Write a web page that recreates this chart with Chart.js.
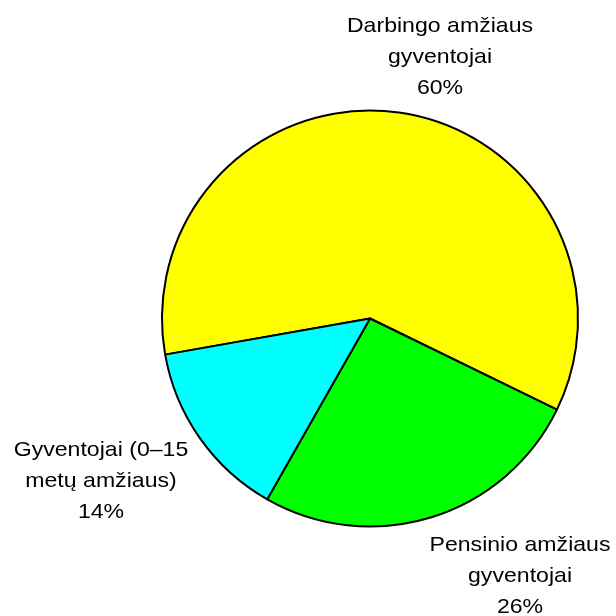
<!DOCTYPE html>
<html>
<head>
<meta charset="utf-8">
<script src="https://cdn.jsdelivr.net/npm/chart.js@4"></script>
<style>
  html, body { margin: 0; padding: 0; background: #fff; }
  #wrap { width: 616px; height: 616px; }
</style>
</head>
<body>
<div id="wrap"><canvas id="pieCanvas" width="616" height="616"></canvas></div>
<script>
// Data
const categories = [
    ['Darbingo amžiaus', 'gyventojai'],
    ['Pensinio amžiaus', 'gyventojai'],
    ['Gyventojai (0–15', 'metų amžiaus)']
];
const shares = [60, 26, 14];
const sliceColors = ['#FFFF00', '#00FF00', '#00FFFF'];

// where each label block goes (first line baseline, centred)
const labelPos = [
    { x: 440, y: 32 },
    { x: 520, y: 551 },
    { x: 101, y: 456 }
];

// plugin that writes the outside labels (text is a bit wide in the original)
const outsideLabels = {
    id: 'outsideLabels',
    afterDraw(chart) {
        const ctx = chart.ctx;
        const data = chart.data.datasets[0].data;
        ctx.save();
        ctx.fillStyle = '#000';
        ctx.font = '21px "Liberation Sans", Arial, sans-serif';
        ctx.textAlign = 'center';
        ctx.textBaseline = 'alphabetic';
        chart.data.labels.forEach((lines, i) => {
            const p = labelPos[i];
            const all = lines.concat([data[i] + '%']);
            all.forEach((t, j) => {
                ctx.save();
                ctx.translate(p.x, p.y + j * 31);
                ctx.scale(1.1, 1);
                ctx.fillText(t, 0, 0);
                ctx.restore();
            });
        });
        ctx.restore();
    }
};

const ctx = document.getElementById('pieCanvas').getContext('2d');
let myChart = new Chart(ctx, {
    type: 'pie',
    data: {
        labels: categories,
        datasets: [{
            data: shares,
            backgroundColor: sliceColors,
            borderColor: '#000',
            borderWidth: 2
        }]
    },
    options: {
        responsive: false,
        animation: false,
        rotation: 260,
        radius: 208,
        layout: {
            padding: { left: 144, right: 20, top: 100, bottom: 79 }
        },
        plugins: {
            legend: { display: false },
            tooltip: { enabled: false }
        }
    },
    plugins: [outsideLabels]
});
</script>
</body>
</html>
